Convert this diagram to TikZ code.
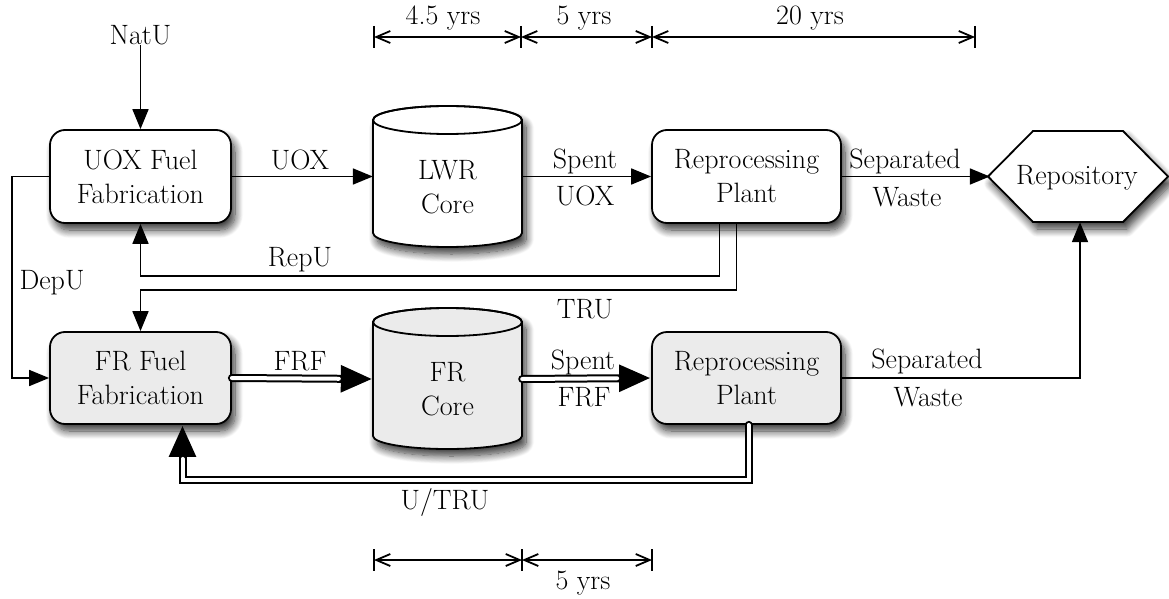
\documentclass[tikz,border=0pt]{standalone}
\usepackage{fontspec}
\usetikzlibrary{arrows.meta,shadows.blur}
\definecolor{frgray}{RGB}{235,235,235}
\tikzset{
  every node/.style={font=\fontsize{28}{34}\selectfont},
  mybox/.style={draw, line width=1.8pt, rounded corners=15pt, align=center, minimum width=181pt, minimum height=93pt, fill=white, inner sep=0pt},
  shad/.style={blur shadow={shadow xshift=4pt, shadow yshift=-7pt, shadow blur radius=8pt, shadow opacity=80, shadow blur steps=12}},
  arr/.style={line width=1.8pt, draw=black, -{Triangle[length=20pt,width=16pt,fill=black,color=black]}},
  dblblack/.style={line width=8pt, line cap=round, -{Triangle[length=32pt,width=25pt,fill=black]}},
  dblwhite/.style={line width=4pt, white, line cap=round, shorten >=34pt},
  dim/.style={line width=1.8pt, {Straight Barb[length=14pt,width=12pt]}-{Straight Barb[length=14pt,width=12pt]}},
  tickmark/.style={line width=1.8pt},
  lbl/.style={inner sep=0pt},
  invis/.style={inner sep=0pt, align=center},
  shapeline/.style={line width=1.8pt}
}
\begin{document}
\begin{tikzpicture}[x=1pt,y=-1pt]
\useasboundingbox (0,0) rectangle (1169,599);

% cylinders
\filldraw[shapeline, fill=white, shad] (373,120) -- (373,233) arc[start angle=180,end angle=360,x radius=74.5pt,y radius=14pt] -- (522,120) arc[start angle=0,end angle=180,x radius=74.5pt,y radius=14pt] -- cycle;
\draw[shapeline] (447.5,120) ellipse[x radius=74.5pt, y radius=14pt];
\filldraw[shapeline, fill=frgray, shad] (373,322) -- (373,436) arc[start angle=180,end angle=360,x radius=74.5pt,y radius=13pt] -- (522,322) arc[start angle=0,end angle=180,x radius=74.5pt,y radius=14pt] -- cycle;
\draw[shapeline] (447.5,322) ellipse[x radius=74.5pt, y radius=14pt];

% hexagon
\filldraw[shapeline, fill=white, shad] (988,176.5) -- (1033,131) -- (1123,131) -- (1168,176.5) -- (1123,222) -- (1033,222) -- cycle;

% nodes
\node[mybox, shad] (uox) at (140.5,176.5) {UOX Fuel\\Fabrication};
\node[mybox, shad, fill=frgray, minimum height=92pt] (fr) at (140.5,378) {FR Fuel\\Fabrication};
\node[mybox, shad, minimum width=189pt] (rp1) at (746.5,176.5) {Reprocessing\\Plant};
\node[mybox, shad, fill=frgray, minimum width=189pt, minimum height=92pt] (rp2) at (746.5,378) {Reprocessing\\Plant};
\node[invis, minimum width=149pt, minimum height=113pt] (lwr) at (447.5,176.5) {};
\node[invis] (lwrtxt) at (447.5,187) {LWR\\Core};
\node[invis, minimum width=149pt, minimum height=114pt] (frc) at (447.5,379) {};
\node[invis] (frctxt) at (447.5,389) {FR\\Core};
\node[invis, minimum width=180pt, minimum height=91pt] (repo) at (1080,176.5) {};
\node[lbl] (repotxt) at (1077,178) {Repository};
\node[lbl] (natu) at (140.5,35) {NatU};

% connectors
\draw[arr] (natu.south) -- (uox.north);
\draw[arr] (uox.east) -- (lwr.west);
\draw[arr] (lwr.east) -- (rp1.west);
\draw[arr] (rp1.east) -- (repo.west);
\draw[arr] ([xshift=-27pt]rp1.south) -- ++(0,52) -| (uox.south);
\draw[arr] ([xshift=-10pt]rp1.south) -- ++(0,66) -| (fr.north);
\draw[arr] (uox.west) -- ++(-37,0) |- (fr.west);
\draw[arr] (rp2.east) -| (repo.south);

\draw[dblblack] (fr.east) -- (frc.west);
\draw[dblwhite] (fr.east) -- (frc.west);
\draw[dblblack] (frc.east) -- (rp2.west);
\draw[dblwhite] (frc.east) -- (rp2.west);
\draw[dblblack] ([xshift=2pt]rp2.south) -- ++(0,55) -| ([xshift=42pt]fr.south);
\draw[dblwhite] ([xshift=2pt]rp2.south) -- ++(0,55) -| ([xshift=42pt]fr.south);

% labels
\node[lbl] (luox) at (300,160) {UOX};
\node[lbl] (lspent1) at (585,161) {Spent};
\node[lbl] (luox2) at (585,196) {UOX};
\node[lbl] (lsep1) at (905,161) {Separated};
\node[lbl] (lwaste1) at (907,197) {Waste};
\node[lbl] (lrepu) at (300,260) {RepU};
\node[lbl] (ltru) at (585,309) {TRU};
\node[lbl] (ldepu) at (52,283) {DepU};
\node[lbl] (lfrf) at (300,361) {FRF};
\node[lbl] (lspent2) at (583,362) {Spent};
\node[lbl] (lfrf2) at (584,397) {FRF};
\node[lbl] (lsep2) at (927,361) {Separated};
\node[lbl] (lwaste2) at (928,397) {Waste};
\node[lbl] (lutru) at (445,502) {U/TRU};

% timelines
\coordinate (t1) at (374,37);
\coordinate (t2) at (521,37);
\coordinate (t3) at (652,37);
\coordinate (t4) at (975,37);
\draw[dim] (t1) -- (t2);
\draw[dim] (t2) -- (t3);
\draw[dim] (t3) -- (t4);
\foreach \c in {t1,t2,t3,t4} \draw[tickmark] (\c) ++(0,-11) -- ++(0,22);
\node[lbl] (y1) at (443,18) {4.5 yrs};
\node[lbl] (y2) at (584,18) {5 yrs};
\node[lbl] (y3) at (810,18) {20 yrs};

\coordinate (b1) at (374,560);
\coordinate (b2) at (522,560);
\coordinate (b3) at (652,560);
\draw[dim] (b1) -- (b2);
\draw[dim] (b2) -- (b3);
\foreach \c in {b1,b2,b3} \draw[tickmark] (\c) ++(0,-11) -- ++(0,22);
\node[lbl] (y4) at (583,583) {5 yrs};
\end{tikzpicture}
\end{document}
